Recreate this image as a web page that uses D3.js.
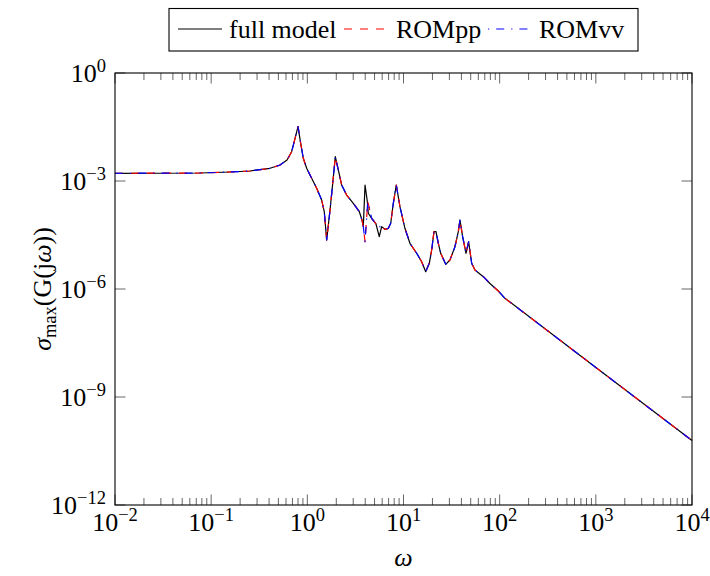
<!DOCTYPE html>
<html>
<head>
<meta charset="utf-8">
<script src="https://cdn.jsdelivr.net/npm/d3@7"></script>
<style>
  html, body { margin: 0; padding: 0; background: #fff; }
  svg { display: block; }
  text { font-family: "Liberation Serif", "Times New Roman", serif; fill: #000; }
</style>
</head>
<body>
<svg id="chart" width="710" height="576"></svg>
<script>
// ---------------- data ----------------
const fullOmega = [0.01, 0.0766, 0.157, 0.2535, 0.409, 0.52, 0.615, 0.687, 0.745, 0.80, 0.853, 0.908, 0.984,
  1.109, 1.25, 1.409, 1.5, 1.589, 1.722, 1.837, 1.954, 2.099, 2.275, 2.564, 3.006, 3.475, 3.698, 3.819,
  3.981, 4.207, 4.305, 4.667, 5.176, 5.598, 5.929, 6.427, 6.95, 7.362, 7.834, 8.414, 9.183, 10.35, 11.67,
  13.71, 15.45, 17.02, 18.54, 19.63, 20.75, 21.78, 23.01, 24.38, 27.48, 30.41, 34.28, 37.15, 38.64, 41.21,
  44.67, 47.53, 51.17, 55.34, 67.61, 79.25, 96.8, 113.5, 1000, 10000];
const fullSigma = [1.637e-3, 1.667e-3, 1.778e-3, 1.897e-3, 2.254e-3, 2.78e-3, 3.83e-3, 6.52e-3, 0.01531, 0.0323, 0.01114, 4.27e-3, 2.254e-3,
  1.189e-3, 6.27e-4, 2.965e-4, 1.403e-4, 2.296e-5, 1.563e-4, 8.63e-4, 4.73e-3, 2.023e-3, 7.74e-4, 4.08e-4, 2.404e-4, 1.403e-4, 8.26e-5, 5.38e-5,
  7.74e-4, 2.661e-4, 1.268e-4, 9.2e-5, 6.4e-5, 2.838e-5, 5.38e-5, 4.55e-5, 4.85e-5, 6.68e-5, 2.404e-4, 7.74e-4, 1.932e-4, 4.85e-5, 1.858e-5,
  9.82e-6, 5.73e-6, 3.03e-6, 5.18e-6, 1.211e-5, 3.91e-5, 3.91e-5, 1.858e-5, 9.82e-6, 4.85e-6, 6.4e-6, 1.496e-5, 3.91e-5, 8.26e-5, 2.838e-5,
  9.82e-6, 2.061e-5, 5.18e-6, 3.37e-6, 2.198e-6, 1.422e-6, 8.79e-7, 5.52e-7, 6.61e-9, 6.17e-11];

const romppOmega = [0.01, 0.0766, 0.157, 0.2535, 0.409, 0.52, 0.615, 0.687, 0.745, 0.80, 0.853, 0.908, 0.984,
  1.109, 1.25, 1.409, 1.5, 1.589, 1.722, 1.837, 1.954, 2.099, 2.275, 2.564, 3.006, 3.475, 3.698, 3.819,
  3.981, 4.246, 4.375, 4.667, 5.176, 5.689, 6.427, 6.95, 7.362, 7.834, 8.414, 9.183, 10.35, 11.67,
  13.71, 15.45, 17.02, 18.54, 19.63, 20.75, 21.78, 23.01, 24.38, 27.48, 30.41, 34.28, 37.15, 38.64, 41.21,
  44.67, 47.53, 51.17, 55.34, 67.61, 79.25, 96.8, 113.5, 1000, 10000];
const romppSigma = [1.637e-3, 1.667e-3, 1.778e-3, 1.897e-3, 2.254e-3, 2.78e-3, 3.83e-3, 6.52e-3, 0.01531, 0.0323, 0.01114, 4.27e-3, 2.254e-3,
  1.189e-3, 6.27e-4, 2.965e-4, 1.403e-4, 2.296e-5, 1.563e-4, 8.63e-4, 4.73e-3, 2.023e-3, 7.74e-4, 4.08e-4, 2.404e-4, 1.403e-4, 8.26e-5, 5.38e-5,
  2.061e-5, 2.661e-4, 1.932e-4, 9.2e-5, 6.4e-5, 5.38e-5, 4.55e-5, 4.85e-5, 6.68e-5, 2.404e-4, 7.74e-4, 1.932e-4, 4.85e-5, 1.858e-5,
  9.82e-6, 5.73e-6, 3.03e-6, 5.18e-6, 1.211e-5, 3.91e-5, 3.91e-5, 1.858e-5, 9.82e-6, 4.85e-6, 6.4e-6, 1.496e-5, 3.91e-5, 8.26e-5, 2.838e-5,
  9.82e-6, 2.061e-5, 5.18e-6, 3.37e-6, 2.198e-6, 1.422e-6, 8.79e-7, 5.52e-7, 6.61e-9, 6.17e-11];

const romvvOmega = [0.01, 0.0766, 0.157, 0.2535, 0.409, 0.52, 0.615, 0.687, 0.745, 0.80, 0.853, 0.908, 0.984,
  1.109, 1.25, 1.409, 1.5, 1.589, 1.722, 1.837, 1.954, 2.099, 2.275, 2.564, 3.006, 3.475, 3.698, 3.819,
  3.981, 4.246, 4.375, 4.667, 5.176, 5.689, 6.427, 6.95, 7.362, 7.834, 8.414, 9.183, 10.35, 11.67,
  13.71, 15.45, 17.02, 18.54, 19.63, 20.75, 21.78, 23.01, 24.38, 27.48, 30.41, 34.28, 37.15, 38.64, 41.21,
  44.67, 47.53, 51.17, 55.34, 67.61, 79.25, 96.8, 113.5, 1000, 10000];
const romvvSigma = [1.637e-3, 1.667e-3, 1.778e-3, 1.897e-3, 2.254e-3, 2.78e-3, 3.83e-3, 6.52e-3, 0.01531, 0.0323, 0.01114, 4.27e-3, 2.254e-3,
  1.189e-3, 6.27e-4, 2.965e-4, 1.403e-4, 2.296e-5, 1.563e-4, 8.63e-4, 4.73e-3, 2.023e-3, 7.74e-4, 4.08e-4, 2.404e-4, 1.403e-4, 8.26e-5, 5.38e-5,
  2.061e-5, 2.661e-4, 1.932e-4, 9.2e-5, 6.4e-5, 5.38e-5, 4.55e-5, 4.85e-5, 6.68e-5, 2.404e-4, 7.74e-4, 1.932e-4, 4.85e-5, 1.858e-5,
  9.82e-6, 5.73e-6, 3.03e-6, 5.18e-6, 1.211e-5, 3.91e-5, 3.91e-5, 1.858e-5, 9.82e-6, 4.85e-6, 6.4e-6, 1.496e-5, 3.91e-5, 8.26e-5, 2.838e-5,
  9.82e-6, 2.061e-5, 5.18e-6, 3.37e-6, 2.198e-6, 1.422e-6, 8.79e-7, 5.52e-7, 6.61e-9, 6.17e-11];

const xTickExponents = ["−2", "−1", "0", "1", "2", "3", "4"];
const xTickValues = [1e-2, 1e-1, 1e0, 1e1, 1e2, 1e3, 1e4];
const yTickExponents = ["0", "−3", "−6", "−9", "−12"];
const yTickValues = [1e0, 1e-3, 1e-6, 1e-9, 1e-12];
const legendLabels = ["full model", "ROMpp", "ROMvv"];

// ---------------- layout ----------------
const L = 115, R = 692, T = 73, B = 505;
const FS = 26, FSsup = 18.5;

const svg = d3.select("#chart");
const x = d3.scaleLog().domain([1e-2, 1e4]).range([L, R]);
const y = d3.scaleLog().domain([1e-12, 1]).range([B, T]);

// minor x ticks
const minorX = [];
for (let k = -2; k < 4; k++) for (let m = 2; m <= 9; m++) minorX.push(m * Math.pow(10, k));

const tickG = svg.append("g").attr("stroke", "#666").attr("stroke-width", 1);
const majLen = 10.5, minLen = 7;
minorX.forEach(v => {
  const px = x(v);
  tickG.append("line").attr("x1", px).attr("x2", px).attr("y1", B).attr("y2", B - minLen);
  tickG.append("line").attr("x1", px).attr("x2", px).attr("y1", T).attr("y2", T + minLen);
});
xTickValues.forEach(v => {
  const px = x(v);
  tickG.append("line").attr("x1", px).attr("x2", px).attr("y1", B).attr("y2", B - majLen);
  tickG.append("line").attr("x1", px).attr("x2", px).attr("y1", T).attr("y2", T + majLen);
});
yTickValues.forEach(v => {
  const py = y(v);
  tickG.append("line").attr("x1", L).attr("x2", L + majLen).attr("y1", py).attr("y2", py);
  tickG.append("line").attr("x1", R).attr("x2", R - majLen).attr("y1", py).attr("y2", py);
});

// curves
const lineGen = (xs, ys) => d3.line().x((d, i) => x(xs[i])).y((d, i) => y(ys[i]))(xs);
const curveG = svg.append("g").attr("fill", "none").attr("stroke-linejoin", "round");
curveG.append("path").attr("d", lineGen(fullOmega, fullSigma))
  .attr("stroke", "#000").attr("stroke-width", 1.2);
curveG.append("path").attr("d", lineGen(romppOmega, romppSigma))
  .attr("stroke", "#ff0000").attr("stroke-width", 1.2).attr("stroke-dasharray", "8,8");
curveG.append("path").attr("d", lineGen(romvvOmega, romvvSigma))
  .attr("stroke", "#0000ff").attr("stroke-width", 1.2).attr("stroke-dasharray", "8,7,1.2,7");

// frame
svg.append("rect").attr("x", L).attr("y", T).attr("width", R - L).attr("height", B - T)
  .attr("fill", "none").attr("stroke", "#000").attr("stroke-width", 1.1);

// x tick labels
xTickValues.forEach((v, i) => {
  const t = svg.append("text").attr("x", x(v)).attr("y", 531).attr("text-anchor", "middle")
    .attr("font-size", FS);
  t.append("tspan").text("10");
  t.append("tspan").attr("dy", -10).attr("font-size", FSsup).text(xTickExponents[i]);
});
// y tick labels
yTickValues.forEach((v, i) => {
  const t = svg.append("text").attr("x", 106).attr("y", y(v) + 8.8).attr("text-anchor", "end")
    .attr("font-size", FS);
  t.append("tspan").text("10");
  t.append("tspan").attr("dy", -10).attr("font-size", FSsup).text(yTickExponents[i]);
});

// axis labels
svg.append("text").attr("x", (L + R) / 2).attr("y", 566).attr("text-anchor", "middle")
  .attr("font-size", FS).attr("font-style", "italic").text("ω");

const yl = svg.append("text").attr("transform", `translate(51,${(T + B) / 2}) rotate(-90)`)
  .attr("text-anchor", "middle").attr("font-size", FS);
yl.append("tspan").attr("font-style", "italic").text("σ");
yl.append("tspan").attr("font-size", FSsup).attr("dy", 5).text("max");
yl.append("tspan").attr("dy", -5).text("(G(j");
yl.append("tspan").attr("font-style", "italic").text("ω");
yl.append("tspan").text("))");

// legend
const lg = svg.append("g");
lg.append("rect").attr("x", 169).attr("y", 8.5).attr("width", 469).attr("height", 42.5)
  .attr("fill", "#fff").attr("stroke", "#000").attr("stroke-width", 1.1);
const legendItems = [
  {x1: 178, x2: 222, tx: 229, color: "#000", dash: null},
  {x1: 344, x2: 386, tx: 396, color: "#ff0000", dash: "8,8"},
  {x1: 488, x2: 532, tx: 539, color: "#0000ff", dash: "1.2,7,8,7"}
];
legendItems.forEach((it, i) => {
  const ln = lg.append("line").attr("x1", it.x1).attr("x2", it.x2).attr("y1", 29).attr("y2", 29)
    .attr("stroke", it.color).attr("stroke-width", 1.2);
  if (it.dash) ln.attr("stroke-dasharray", it.dash);
  lg.append("text").attr("x", it.tx).attr("y", 38).attr("font-size", FS).text(legendLabels[i]);
});
</script>
</body>
</html>
